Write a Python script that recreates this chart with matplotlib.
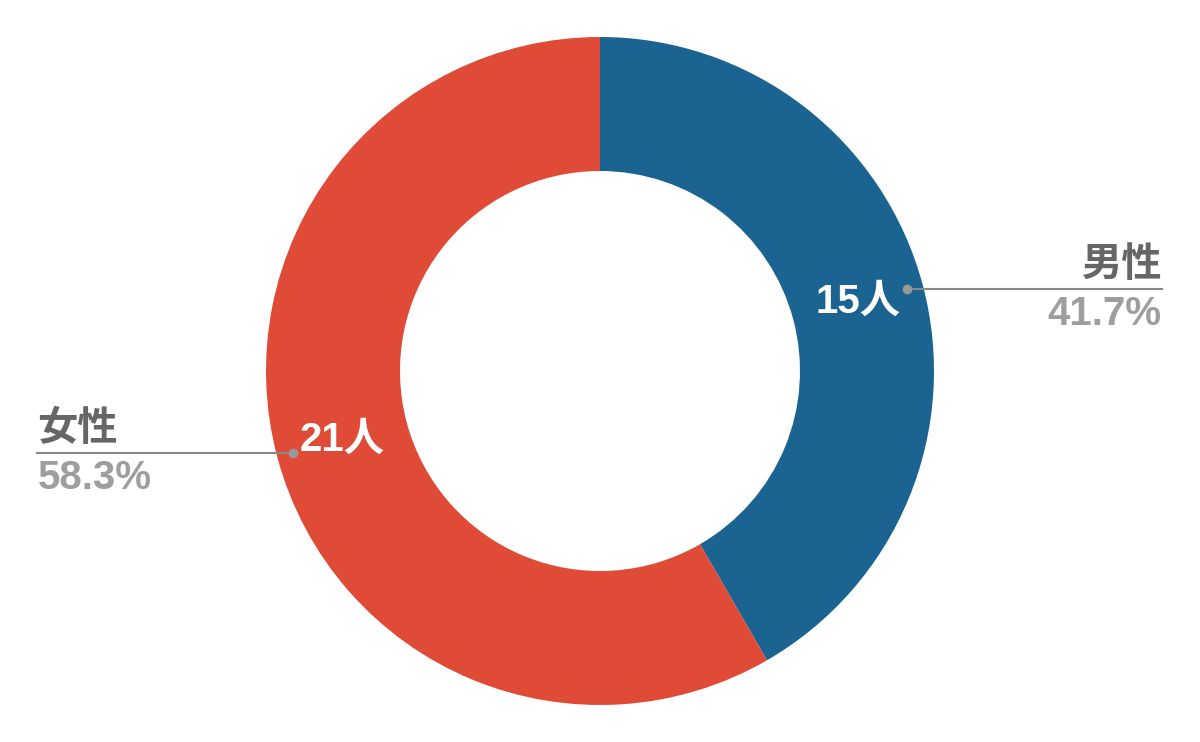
import numpy as np
import matplotlib.pyplot as plt

labels = ['男性', '女性']
counts = [15, 21]
colors = ['#1b6391', '#e04b37']

plt.rcParams['font.family'] = ['Liberation Sans', 'Noto Sans CJK JP', 'DejaVu Sans']

fig = plt.figure(figsize=(12, 7.42), dpi=100)
ax = fig.add_axes([0, 0, 1, 1])

cx, cy = 600, 371
r_out, r_in = 334, 200

ax.pie(counts, colors=colors, startangle=90, counterclock=False,
       radius=r_out, center=(cx, cy), frame=True,
       wedgeprops=dict(width=r_out - r_in, linewidth=0))
ax.set_xlim(0, 1200)
ax.set_ylim(0, 742)
ax.set_aspect('equal')
ax.axis('off')

total = sum(counts)
start = 90.0
for lab, n in zip(labels, counts):
    span = 360.0 * n / total
    mid = np.deg2rad(start - span / 2)
    start -= span

    # count label in the middle of the ring
    rm = (r_out + r_in) / 2
    ax.text(cx + rm * np.cos(mid), cy + rm * np.sin(mid), f'{n}人',
            color='white', fontsize=29, fontweight='bold',
            ha='center', va='center')

    # leader dot + line
    rd = 318
    dx, dy = cx + rd * np.cos(mid), cy + rd * np.sin(mid)
    ax.plot(dx, dy, 'o', color='#999999', markersize=6, zorder=5)
    pct = f'{100 * n / total:.1f}%'
    if np.cos(mid) > 0:
        x_end, ha = 1162, 'right'
    else:
        x_end, ha = 37, 'left'
    ax.plot([dx, x_end], [dy, dy], color='#888888', lw=1.5, zorder=4)
    ax.text(x_end, dy + 5, lab, color='#666666', fontsize=29,
            fontweight='bold', ha=ha, va='bottom')
    ax.text(x_end + (1 if ha == 'left' else 0), dy - 6, pct, color='#9e9e9e',
            fontsize=29, fontweight='bold', ha=ha, va='top')

fig.savefig('out.png', dpi=100)
